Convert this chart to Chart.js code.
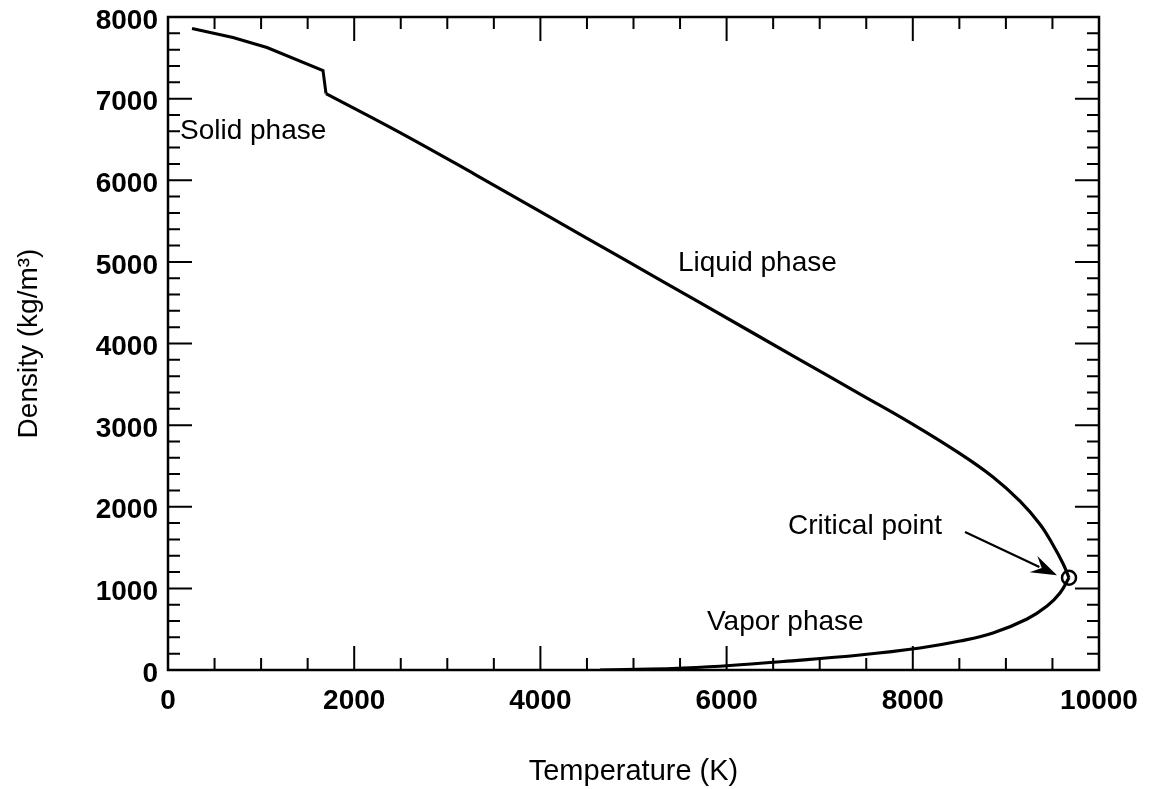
<!DOCTYPE html>
<html>
<head>
<meta charset="utf-8">
<script src="https://cdn.jsdelivr.net/npm/chart.js@4.4.1/dist/chart.umd.min.js"></script>
<style>
  html, body { margin: 0; padding: 0; background: #fff; }
  #wrap { width: 1158px; height: 789px; }
</style>
</head>
<body>
<div id="wrap"><canvas id="c" width="1158" height="789"></canvas></div>
<script>
// ---- data ----
const xTickLabels = [0, 2000, 4000, 6000, 8000, 10000];
const yTickLabels = [0, 1000, 2000, 3000, 4000, 5000, 6000, 7000, 8000];

const solidT   = [258, 698, 1063, 1665, 1697];
const solidRho = [7859, 7749, 7626, 7344, 7062];

const liquidT   = [1697, 2492, 3300, 4103, 4900, 5714, 6788, 7433, 7970, 8507, 8861, 9151, 9366, 9506, 9613, 9678];
const liquidRho = [7062, 6584, 6070, 5548, 5030, 4500, 3800, 3380, 3030, 2650, 2364, 2068, 1786, 1532, 1305, 1130];

const vaporT   = [9678, 9581, 9442, 9227, 8861, 8507, 8077, 7433, 6606, 6037, 5532, 5177, 4640];
const vaporRho = [1130, 944, 784, 625, 453, 355, 270, 184, 104, 55, 24, 10, 0];

const criticalT = [9678];
const criticalRho = [1130];

const arrowFrom = [8561, 1691];
const arrowTo   = [9549, 1160];

const labelTexts = ["Solid phase", "Liquid phase", "Vapor phase", "Critical point"];
const labelT     = [129, 5478, 5789, 6660];
const labelRho   = [6600, 4980, 580, 1760];

const FONT = '"Liberation Sans", Arial, Helvetica, sans-serif';

function pts(xs, ys) { return xs.map((x, i) => ({ x: x, y: ys[i] })); }

// minor tick values
const xMinor = [], yMinor = [];
for (let v = 0; v <= 10000; v += 500) if (v % 2000 !== 0) xMinor.push(v);
for (let v = 0; v <= 8000; v += 200) if (v % 1000 !== 0) yMinor.push(v);

const framePlugin = {
  id: 'frame',
  afterDatasetsDraw(chart) {
    const { ctx, chartArea: a, scales: { x, y } } = chart;
    ctx.save();
    ctx.strokeStyle = '#000';
    ctx.lineWidth = 2.5;
    ctx.strokeRect(a.left, a.top, a.right - a.left, a.bottom - a.top);
    ctx.lineWidth = 2;
    const MAJ = 24, MIN = 12;
    const tickX = (v, len) => {
      const px = x.getPixelForValue(v);
      ctx.beginPath();
      ctx.moveTo(px, a.bottom); ctx.lineTo(px, a.bottom - len);
      ctx.moveTo(px, a.top); ctx.lineTo(px, a.top + len);
      ctx.stroke();
    };
    const tickY = (v, len) => {
      const py = y.getPixelForValue(v);
      ctx.beginPath();
      ctx.moveTo(a.left, py); ctx.lineTo(a.left + len, py);
      ctx.moveTo(a.right, py); ctx.lineTo(a.right - len, py);
      ctx.stroke();
    };
    xTickLabels.forEach(v => tickX(v, MAJ));
    xMinor.forEach(v => tickX(v, MIN));
    yTickLabels.forEach(v => tickY(v, MAJ));
    yMinor.forEach(v => tickY(v, MIN));

    // arrow
    const x0 = x.getPixelForValue(arrowFrom[0]), y0 = y.getPixelForValue(arrowFrom[1]);
    const x1 = x.getPixelForValue(arrowTo[0]), y1 = y.getPixelForValue(arrowTo[1]);
    const ang = Math.atan2(y1 - y0, x1 - x0);
    const hl = 26, hw = 9;
    const c = Math.cos(ang), s = Math.sin(ang);
    ctx.lineWidth = 2.2;
    ctx.beginPath();
    ctx.moveTo(x0, y0);
    ctx.lineTo(x1 - hl * 0.75 * c, y1 - hl * 0.75 * s);
    ctx.stroke();
    ctx.beginPath();
    ctx.moveTo(x1, y1);
    ctx.lineTo(x1 - hl * c + hw * s, y1 - hl * s - hw * c);
    ctx.lineTo(x1 - hl * 0.65 * c, y1 - hl * 0.65 * s);
    ctx.lineTo(x1 - hl * c - hw * s, y1 - hl * s + hw * c);
    ctx.closePath();
    ctx.fillStyle = '#000';
    ctx.fill();

    // labels
    ctx.font = '28px ' + FONT;
    ctx.fillStyle = '#000';
    ctx.textAlign = 'left';
    ctx.textBaseline = 'middle';
    labelTexts.forEach((t, i) => {
      ctx.fillText(t, x.getPixelForValue(labelT[i]), y.getPixelForValue(labelRho[i]));
    });
    ctx.restore();
  }
};

new Chart(document.getElementById('c'), {
  type: 'scatter',
  data: {
    datasets: [
      { data: pts(solidT, solidRho), showLine: true, borderColor: '#000', borderWidth: 3, pointRadius: 0, tension: 0 },
      { data: pts(liquidT, liquidRho), showLine: true, borderColor: '#000', borderWidth: 3.2, pointRadius: 0, tension: 0.4 },
      { data: pts(vaporT, vaporRho), showLine: true, borderColor: '#000', borderWidth: 3.2, pointRadius: 0, tension: 0.4 },
      { data: pts(criticalT, criticalRho), showLine: false, pointRadius: 7, pointBorderWidth: 2.5,
        pointBackgroundColor: '#fff', pointBorderColor: '#000' }
    ]
  },
  options: {
    responsive: false,
    animation: false,
    devicePixelRatio: 1,
    layout: { padding: { top: 17, right: 59, left: 0, bottom: 0 } },
    plugins: { legend: { display: false }, tooltip: { enabled: false } },
    scales: {
      x: {
        type: 'linear', min: 0, max: 10000,
        afterBuildTicks: s => { s.ticks = xTickLabels.map(v => ({ value: v })); },
        afterFit: s => { s.height = 119; s.paddingLeft = 0; s.paddingRight = 0; },
        grid: { display: false, drawTicks: false },
        border: { display: false },
        ticks: { color: '#000', padding: 14, maxRotation: 0, callback: v => String(v),
                 font: { family: FONT, size: 28, weight: 'bold' } },
        title: { display: true, text: 'Temperature (K)', color: '#000',
                 font: { family: FONT, size: 29, lineHeight: 1.2 }, padding: { top: 0, bottom: 0 } }
      },
      y: {
        type: 'linear', min: 0, max: 8000,
        afterBuildTicks: s => { s.ticks = yTickLabels.map(v => ({ value: v })); },
        afterFit: s => { s.width = 168; s.paddingTop = 0; s.paddingBottom = 0; },
        grid: { display: false, drawTicks: false },
        border: { display: false },
        ticks: { color: '#000', padding: 10, labelOffset: 4, callback: v => String(v),
                 font: { family: FONT, size: 28, weight: 'bold' } },
        title: { display: true, text: 'Density (kg/m³)', color: '#000',
                 font: { family: FONT, size: 28, lineHeight: 1.2 }, padding: { top: 12, bottom: 0 } }
      }
    }
  },
  plugins: [framePlugin]
});
</script>
</body>
</html>
